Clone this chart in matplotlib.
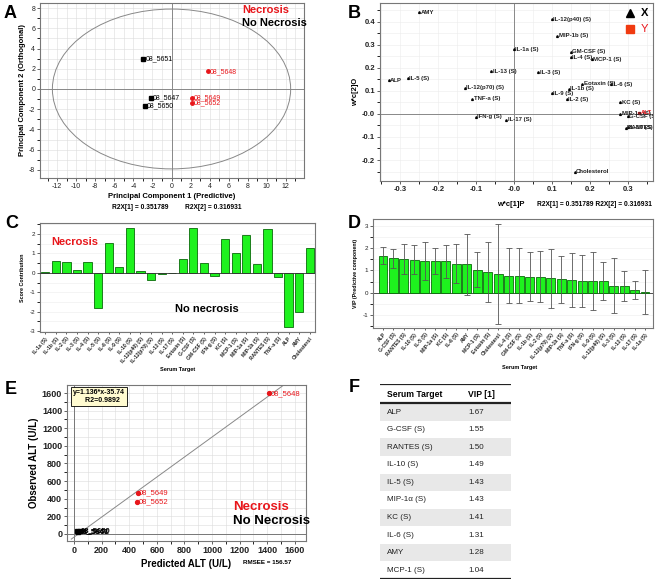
import numpy as np
import matplotlib
matplotlib.use('Agg')
import matplotlib.pyplot as plt
from matplotlib.patches import Ellipse
from matplotlib.ticker import MultipleLocator, FixedLocator, FixedFormatter

plt.rcParams['font.family'] = ['Liberation Sans', 'DejaVu Sans']
plt.rcParams['axes.unicode_minus'] = False

W, H = 661, 582

# ---- panel A : scores ----
a_names = ['08_5651', '08_5647', '08_5650', '08_5648', '08_5649', '08_5652']
a_x = [-3.0, -2.2, -2.8, 3.8, 2.1, 2.1]
a_y = [3.0, -0.85, -1.65, 1.75, -0.9, -1.4]
a_necrosis = [False, False, False, True, True, True]

# ---- panel B : loadings ----
b_names = ['AMY', 'IL-12(p40) (S)', 'MIP-1b (S)', 'IL-1a (S)', 'GM-CSF (S)', 'IL-4 (S)',
           'MCP-1 (S)', 'IL-13 (S)', 'IL-3 (S)', 'ALP', 'IL-5 (S)', 'IL-12(p70) (S)',
           'Eotaxin (S)', 'IL-6 (S)', 'IL-1b (S)', 'IL-9 (S)', 'TNF-a (S)', 'IL-2 (S)',
           'KC (S)', 'MIP-1a (S)', 'G-CSF (S)', 'IFN-g (S)', 'IL-17 (S)', 'RANTES (S)',
           'IL-10 (S)', 'Cholesterol']
b_x = [-0.25, 0.10, 0.115, 0.0, 0.15, 0.15, 0.205, -0.06, 0.065, -0.33, -0.28, -0.13,
       0.18, 0.255, 0.145, 0.10, -0.11, 0.14, 0.28, 0.28, 0.30, -0.10, -0.02, 0.295,
       0.30, 0.16]
b_y = [0.44, 0.41, 0.34, 0.28, 0.27, 0.245, 0.238, 0.185, 0.18, 0.147, 0.155, 0.113,
       0.13, 0.128, 0.11, 0.09, 0.065, 0.063, 0.05, 0.0, -0.01, -0.012, -0.025, -0.06,
       -0.058, -0.25]
b_y_name = 'ALT'
b_y_pt = (0.33, 0.005)

# ---- panel C : score contribution ----
c_labels = ['IL-1a (S)', 'IL-1b (S)', 'IL-2 (S)', 'IL-3 (S)', 'IL-4 (S)', 'IL-5 (S)',
            'IL-6 (S)', 'IL-9 (S)', 'IL-10 (S)', 'IL-12(p40) (S)', 'IL-12(p70) (S)',
            'IL-13 (S)', 'IL-17 (S)', 'Eotaxin (S)', 'G-CSF (S)', 'GM-CSF (S)', 'IFN-g (S)',
            'KC (S)', 'MCP-1 (S)', 'MIP-1a (S)', 'MIP-1b (S)', 'RANTES (S)', 'TNF-a (S)',
            'ALP', 'AMY', 'Cholesterol']
c_values = [0.02, 0.6, 0.57, 0.13, 0.55, -1.82, 1.52, 0.3, 2.33, 0.1, -0.35, -0.05, 0.0,
            0.72, 2.33, 0.53, -0.15, 1.75, 1.0, 1.97, 0.48, 2.27, -0.22, -2.78, -2.03, 1.3]

# ---- panel D : VIP ----
d_labels = ['ALP', 'G-CSF (S)', 'RANTES (S)', 'IL-10 (S)', 'IL-5 (S)', 'MIP-1a (S)', 'KC (S)',
            'IL-6 (S)', 'AMY', 'MCP-1 (S)', 'Eotaxin (S)', 'Cholesterol', 'IL-4 (S)',
            'GM-CSF (S)', 'IL-1b (S)', 'IL-2 (S)', 'IL-12(p70) (S)', 'MIP-1b (S)', 'TNF-a (S)',
            'IFN-g (S)', 'IL-9 (S)', 'IL-12(p40) (S)', 'IL-3 (S)', 'IL-13 (S)', 'IL-17 (S)',
            'IL-1a (S)']
d_vip = [1.67, 1.55, 1.50, 1.49, 1.43, 1.43, 1.41, 1.31, 1.28, 1.04, 0.93, 0.84, 0.77, 0.77,
         0.73, 0.72, 0.65, 0.60, 0.58, 0.53, 0.53, 0.53, 0.32, 0.32, 0.13, 0.03]
d_err = [0.40, 0.42, 0.67, 0.65, 0.87, 0.60, 0.73, 0.88, 1.37, 0.80, 1.35, 2.26, 1.23, 1.22,
         1.10, 1.15, 1.33, 1.05, 1.22, 1.17, 1.30, 0.87, 1.23, 0.67, 0.42, 1.00]

# ---- panel E : observed vs predicted ALT ----
e_names = ['08_5648', '08_5649', '08_5652', '08_5647', '08_5650', '08_5651']
e_pred = [1415, 460, 455, 22, 40, 30]
e_obs = [1595, 465, 360, 28, 33, 25]
e_necrosis = [True, True, True, False, False, False]
e_slope, e_icpt = 1.136, -35.74

# ---- panel F : table ----
f_targets = ['ALP', 'G-CSF (S)', 'RANTES (S)', 'IL-10 (S)', 'IL-5 (S)', 'MIP-1\u03b1 (S)',
             'KC (S)', 'IL-6 (S)', 'AMY', 'MCP-1 (S)']
f_vip = ['1.67', '1.55', '1.50', '1.49', '1.43', '1.43', '1.41', '1.31', '1.28', '1.04']

RED = '#e8161b'
GRID = '#dcdcdc'
GREEN = '#1ef21e'


def px(l, t, r, b):
    return [l / W, 1 - b / H, (r - l) / W, (b - t) / H]


def ftext(x, y, s, **kw):
    fig.text(x / W, 1 - y / H, s, **kw)


def frame(ax):
    for s in ax.spines.values():
        s.set_color('#777777')
        s.set_linewidth(0.8)
    ax.tick_params(length=2, width=0.5, pad=1.5, colors='#222222')


fig = plt.figure(figsize=(W / 100, H / 100), dpi=100)

# ================= A =================
ax = fig.add_axes(px(40, 3, 304, 178))
frame(ax)
ax.set_xlim(-13.8, 13.9)
ax.set_ylim(-8.8, 8.5)
ax.xaxis.set_major_locator(MultipleLocator(2))
ax.yaxis.set_major_locator(MultipleLocator(2))
ax.xaxis.set_minor_locator(MultipleLocator(1))
ax.yaxis.set_minor_locator(MultipleLocator(1))
ax.grid(True, which='both', color=GRID, lw=0.4)
ax.set_axisbelow(True)
ax.axhline(0, color='#888888', lw=0.7)
ax.axvline(0, color='#888888', lw=0.7)
ax.add_patch(Ellipse((0, 0), 25.0, 15.8, fill=False, ec='#888888', lw=0.7))
for n, x, y, nec in zip(a_names, a_x, a_y, a_necrosis):
    c = RED if nec else 'black'
    ax.plot(x, y, marker='o' if nec else 's', ms=2.5, color=c, ls='none')
    ax.text(x + 0.25, y, n, color=c, fontsize=5, va='center', ha='left')
ax.tick_params(labelsize=5)
ax.text(0.766, 0.99, 'Necrosis', transform=ax.transAxes, color=RED, fontsize=8,
        fontweight='bold', ha='left', va='top')
ax.text(0.766, 0.915, 'No Necrosis', transform=ax.transAxes, color='black', fontsize=8,
        fontweight='bold', ha='left', va='top')
ax.set_xlabel('Principal Component 1 (Predictive)', fontsize=5.5, fontweight='bold', labelpad=2)
ax.set_ylabel('Principal Component 2 (Orthogonal)', fontsize=5.5, fontweight='bold', labelpad=2)
ftext(112, 207, 'R2X[1] = 0.351789', fontsize=4.8, fontweight='bold', va='center')
ftext(185, 207, 'R2X[2] = 0.316931', fontsize=4.8, fontweight='bold', va='center')

# ================= B =================
ax = fig.add_axes(px(380, 3, 653, 181))
frame(ax)
ax.set_xlim(-0.353, 0.367)
ax.set_ylim(-0.291, 0.481)
xt = [-0.3, -0.2, -0.1, 0.0, 0.1, 0.2, 0.3]
yt = [-0.2, -0.1, 0.0, 0.1, 0.2, 0.3, 0.4]
ax.xaxis.set_major_locator(FixedLocator(xt))
ax.xaxis.set_major_formatter(FixedFormatter(['-0.3', '-0.2', '-0.1', '-0.0', '0.1', '0.2', '0.3']))
ax.yaxis.set_major_locator(FixedLocator(yt))
ax.yaxis.set_major_formatter(FixedFormatter(['-0.2', '-0.1', '-0.0', '0.1', '0.2', '0.3', '0.4']))
ax.xaxis.set_minor_locator(MultipleLocator(0.05))
ax.yaxis.set_minor_locator(MultipleLocator(0.05))
ax.grid(True, which='both', color='#ececec', lw=0.4)
ax.set_axisbelow(True)
ax.axhline(0, color='#888888', lw=0.7)
ax.axvline(0, color='#888888', lw=0.7)
ax.tick_params(labelsize=5.5)
for lab in ax.get_xticklabels() + ax.get_yticklabels():
    lab.set_fontweight('bold')
ax.plot(b_x, b_y, marker='^', ms=1.3, color='black', ls='none')
for n, x, y in zip(b_names, b_x, b_y):
    ax.text(x + 0.004, y, n, fontsize=4.3, fontweight='bold', va='center', ha='left',
            color='#222222', clip_on=True)
ax.plot(*b_y_pt, marker='s', ms=2, color=RED, ls='none')
ax.text(b_y_pt[0] + 0.004, b_y_pt[1], b_y_name, fontsize=4.3, fontweight='bold', color=RED,
        va='center', ha='left', clip_on=True)
ax.set_ylabel('w*c[2]O', fontsize=5.5, fontweight='bold', labelpad=2)
ax.plot([0.915], [0.945], marker='^', ms=6, color='black', transform=ax.transAxes, clip_on=False)
ax.text(0.955, 0.945, 'X', transform=ax.transAxes, fontsize=8, fontweight='bold', va='center')
ax.plot([0.915], [0.855], marker='s', ms=6, color='#f03a10', transform=ax.transAxes, clip_on=False)
ax.text(0.955, 0.855, 'Y', transform=ax.transAxes, fontsize=8, color=RED, va='center')
ftext(497, 204, 'w*c[1]P', fontsize=5.5, fontweight='bold', va='center')
ftext(537, 204, 'R2X[1] = 0.351789 R2X[2] = 0.316931', fontsize=4.8, fontweight='bold',
      va='center')

# ================= C =================
ax = fig.add_axes(px(40, 223, 315, 332))
frame(ax)
xc = np.arange(len(c_labels))
ax.bar(xc, c_values, width=0.78, color=GREEN, edgecolor='#0a6a0a', lw=0.6, zorder=3)
ax.axhline(0, color='#333333', lw=0.6, zorder=4)
ax.set_xlim(-0.5, len(c_labels) - 0.5)
ax.set_ylim(-3.05, 2.57)
ax.yaxis.set_major_locator(MultipleLocator(1))
ax.yaxis.set_minor_locator(MultipleLocator(0.5))
ax.grid(True, axis='y', which='both', color='#ececec', lw=0.4)
ax.set_axisbelow(True)
ax.set_xticks(xc)
ax.set_xticklabels(c_labels, rotation=50, ha='right', rotation_mode='anchor', fontsize=3.6,
                   fontweight='bold')
ax.tick_params(axis='y', labelsize=4.5)
ax.tick_params(axis='x', length=1.5)
ax.set_ylabel('Score Contribution', fontsize=3.8, fontweight='bold', labelpad=3)
ax.text(0.04, 0.83, 'Necrosis', transform=ax.transAxes, color=RED, fontsize=8,
        fontweight='bold', va='center')
ax.text(0.49, 0.21, 'No necrosis', transform=ax.transAxes, color='black', fontsize=8,
        fontweight='bold', va='center')
ftext(178, 369, 'Serum Target', fontsize=4, fontweight='bold', ha='center', va='center')

# ================= D =================
ax = fig.add_axes(px(373, 219, 653, 328))
frame(ax)
xd = np.arange(len(d_labels))
ax.bar(xd, d_vip, width=0.85, color=GREEN, edgecolor='#0a6a0a', lw=0.6, zorder=3)
ax.errorbar(xd, d_vip, yerr=d_err, fmt='none', ecolor='#555555', elinewidth=0.6,
            capsize=2, capthick=0.6, zorder=4)
ax.axhline(0, color='#333333', lw=0.6, zorder=2)
ax.set_xlim(-0.95, 25.76)
ax.set_ylim(-1.58, 3.31)
ax.yaxis.set_major_locator(MultipleLocator(1))
ax.yaxis.set_minor_locator(MultipleLocator(0.5))
ax.grid(True, axis='y', which='both', color='#ececec', lw=0.4)
ax.set_axisbelow(True)
ax.set_xticks(xd)
ax.set_xticklabels(d_labels, rotation=50, ha='right', rotation_mode='anchor', fontsize=3.6,
                   fontweight='bold')
ax.tick_params(axis='y', labelsize=4.5)
ax.tick_params(axis='x', length=1.5)
ax.set_ylabel('VIP (Predictive component)', fontsize=3.8, fontweight='bold', labelpad=3)
ftext(520, 368, 'Serum Target', fontsize=4, fontweight='bold', ha='center', va='center')

# ================= E =================
ax = fig.add_axes(px(67, 385, 306, 541))
frame(ax)
ax.set_xlim(-51, 1681)
ax.set_ylim(-80, 1691)
ax.xaxis.set_major_locator(MultipleLocator(200))
ax.yaxis.set_major_locator(MultipleLocator(200))
ax.xaxis.set_minor_locator(MultipleLocator(100))
ax.yaxis.set_minor_locator(MultipleLocator(100))
ax.grid(True, which='both', color=GRID, lw=0.4)
ax.set_axisbelow(True)
ax.axhline(0, color='#777777', lw=0.7)
ax.axvline(0, color='#777777', lw=0.7)
lx = np.array([-20, 1600])
ax.plot(lx, e_slope * lx + e_icpt, color='#888888', lw=0.7)
for n, x, y, nec in zip(e_names, e_pred, e_obs, e_necrosis):
    c = RED if nec else 'black'
    ax.plot(x, y, marker='o' if nec else 's', ms=2.8, color=c, ls='none')
    ax.text(x + 12, y, n, color=c, fontsize=5.5, va='center', ha='left',
            fontweight='normal' if nec else 'bold')
ax.tick_params(labelsize=6.5)
for lab in ax.get_xticklabels() + ax.get_yticklabels():
    lab.set_fontweight('bold')
ax.set_xlabel('Predicted ALT (U/L)', fontsize=7, fontweight='bold', labelpad=3)
ax.set_ylabel('Observed ALT (U/L)', fontsize=7, fontweight='bold', labelpad=2)
ax.text(0.025, 0.975, 'y=1.136*x-35.74\n      R2=0.9892', transform=ax.transAxes, fontsize=5,
        fontweight='bold', va='top', ha='left', linespacing=1.3,
        bbox=dict(boxstyle='square,pad=0.3', fc='#fffbd0', ec='black', lw=0.6))
ax.text(0.695, 0.215, 'Necrosis', transform=ax.transAxes, color=RED, fontsize=9.5,
        fontweight='bold', ha='left', va='center')
ax.text(0.695, 0.125, 'No Necrosis', transform=ax.transAxes, color='black', fontsize=9.5,
        fontweight='bold', ha='left', va='center')
ftext(267, 563, 'RMSEE = 156.57', fontsize=4.5, fontweight='bold', ha='center', va='center')

# ================= F =================
ax = fig.add_axes(px(380, 384, 511, 579))
ax.set_xlim(0, 1)
hdr = 1.1
ax.set_ylim(hdr + len(f_targets), 0)
ax.axis('off')
for i, (t, v) in enumerate(zip(f_targets, f_vip)):
    y0 = hdr + i
    if i % 2 == 0:
        ax.axhspan(y0, y0 + 1, color='#e8e8e8', lw=0)
    ax.text(0.056, y0 + 0.5, t, fontsize=5.8, va='center', ha='left', color='#222222')
    ax.text(0.675, y0 + 0.5, v, fontsize=5.8, va='center', ha='left', color='#222222')
ax.text(0.056, hdr / 2 + 0.05, 'Serum Target', fontsize=6.2, fontweight='bold', va='center')
ax.text(0.675, hdr / 2 + 0.05, 'VIP [1]', fontsize=6.2, fontweight='bold', va='center')
ax.axhline(0.0, color='#222222', lw=1.6)
ax.axhline(hdr, color='#222222', lw=1.6)
ax.axhline(hdr + len(f_targets), color='#222222', lw=1.6)

# panel letters
for letter, (x, y) in zip('ABCDEF', [(10, 13), (354, 13), (12, 224), (354, 223),
                                     (11, 389), (354, 388)]):
    ftext(x, y, letter, fontsize=13, fontweight='bold', ha='center', va='center')

fig.savefig('out.png', dpi=100)
